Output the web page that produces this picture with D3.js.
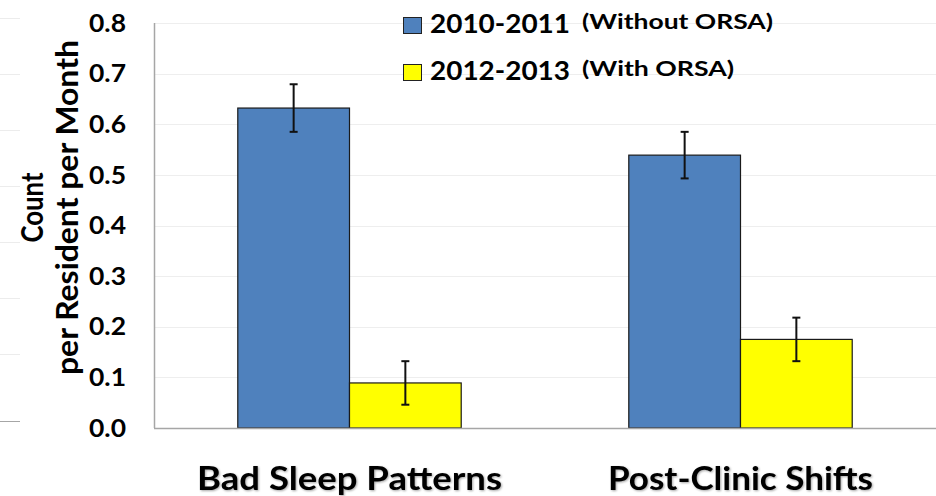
<!DOCTYPE html>
<html>
<head>
<meta charset="utf-8">
<script src="https://cdn.jsdelivr.net/npm/d3@7"></script>
<style>
  body { margin: 0; background: #fff; }
  svg text { font-family: Lato, "Open Sans", sans-serif; font-weight: bold; fill: #000; }
</style>
</head>
<body>
<svg id="chart" width="936" height="496"></svg>
<script>
"use strict";

// data
const categories = ['Bad Sleep Patterns', 'Post-Clinic Shifts'];
const seriesNames = ['2010-2011', '2012-2013'];
const seriesNotes = ['(Without ORSA)', '(With ORSA)'];
const seriesColors = ['#4F81BD', '#FFFF00'];
const values2010 = [0.632, 0.539];
const values2012 = [0.089, 0.175];
const errors2010 = [0.047, 0.046];
const errors2012 = [0.043, 0.043];
const yTicks = [0, 0.1, 0.2, 0.3, 0.4, 0.5, 0.6, 0.7, 0.8];
// faint lines of the neighbouring chart cut off at the left edge
const ghostLines = [0, 1, 2, 3, 4, 5, 6];

const svg = d3.select('#chart');
const W = 936, H = 496;
const margin = { top: 23, right: 0, bottom: 68, left: 154 };
const plotW = W - margin.left - margin.right;
const plotH = H - margin.top - margin.bottom;

const rows = categories.map((c, i) => ({
  category: c,
  bars: [
    { s: 0, value: values2010[i], err: errors2010[i] },
    { s: 1, value: values2012[i], err: errors2012[i] }
  ]
}));

const y = d3.scaleLinear().domain([0, 0.8]).range([plotH, 0]);
const x = d3.scaleBand().domain(categories).range([0, plotW]);
// Excel style gap width 150%
const barW = x.bandwidth() / 3.5;
const xs = d3.scaleBand().domain([0, 1])
  .range([x.bandwidth() / 2 - barW, x.bandwidth() / 2 + barW]);

// ghost gridlines at far left
const ghostY = d3.scaleLinear().domain([0, 6]).range([18, 354]);
svg.append('g').selectAll('line')
  .data(ghostLines)
  .enter().append('line')
  .attr('x1', 0).attr('x2', 20)
  .attr('y1', d => ghostY(d) + 0.5).attr('y2', d => ghostY(d) + 0.5)
  .attr('stroke', '#ececec');
svg.append('line')
  .attr('x1', 0).attr('x2', 20).attr('y1', 421.5).attr('y2', 421.5)
  .attr('stroke', '#a6a6a6');

const g = svg.append('g')
  .attr('transform', 'translate(' + margin.left + ',' + margin.top + ')');

// gridlines
g.append('g').selectAll('line')
  .data(yTicks.slice(1))
  .enter().append('line')
  .attr('x1', 0).attr('x2', plotW)
  .attr('y1', d => Math.round(y(d)) + 0.5)
  .attr('y2', d => Math.round(y(d)) + 0.5)
  .attr('stroke', '#eeeeee')
  .attr('stroke-width', 1);

// bars
const groups = g.selectAll('.grp')
  .data(rows)
  .enter().append('g')
  .attr('class', 'grp')
  .attr('transform', d => 'translate(' + x(d.category) + ',0)');

groups.selectAll('rect')
  .data(d => d.bars)
  .enter().append('rect')
  .attr('x', d => xs(d.s))
  .attr('y', d => y(d.value))
  .attr('width', xs.bandwidth())
  .attr('height', d => plotH - y(d.value))
  .attr('fill', d => seriesColors[d.s])
  .attr('stroke', '#1a1a1a')
  .attr('stroke-width', 1.2);

// error bars
const eb = groups.selectAll('.err')
  .data(d => d.bars)
  .enter().append('g')
  .attr('class', 'err')
  .attr('stroke', '#111')
  .attr('stroke-width', 2);

const cx = d => xs(d.s) + xs.bandwidth() / 2;
eb.append('line')
  .attr('x1', cx).attr('x2', cx)
  .attr('y1', d => y(d.value + d.err))
  .attr('y2', d => y(d.value - d.err));
eb.append('line')
  .attr('x1', d => cx(d) - 4).attr('x2', d => cx(d) + 4)
  .attr('y1', d => y(d.value + d.err)).attr('y2', d => y(d.value + d.err));
eb.append('line')
  .attr('x1', d => cx(d) - 4).attr('x2', d => cx(d) + 4)
  .attr('y1', d => y(d.value - d.err)).attr('y2', d => y(d.value - d.err));

// axes lines
g.append('line')
  .attr('x1', 0.5).attr('x2', 0.5).attr('y1', 0).attr('y2', plotH)
  .attr('stroke', '#a6a6a6').attr('stroke-width', 1.5);
g.append('line')
  .attr('x1', 0).attr('x2', plotW).attr('y1', plotH + 0.5).attr('y2', plotH + 0.5)
  .attr('stroke', '#a6a6a6').attr('stroke-width', 1.5);

// y tick labels
g.append('g').selectAll('text')
  .data(yTicks)
  .enter().append('text')
  .attr('x', -28)
  .attr('y', d => y(d))
  .attr('dy', '0.36em')
  .attr('text-anchor', 'end')
  .attr('font-size', 24)
  .attr('textLength', 37)
  .attr('lengthAdjust', 'spacingAndGlyphs')
  .text(d3.format('.1f'));

// y axis title
const yTitle = svg.append('g')
  .attr('transform', 'translate(0,' + (margin.top + plotH / 2 - 18) + ') rotate(-90)');
yTitle.append('text')
  .attr('x', 0).attr('y', 43)
  .attr('text-anchor', 'middle')
  .attr('font-size', 30)
  .attr('textLength', 70)
  .attr('lengthAdjust', 'spacingAndGlyphs')
  .text('Count');
yTitle.append('text')
  .attr('x', 0).attr('y', 78)
  .attr('text-anchor', 'middle')
  .attr('font-size', 30)
  .attr('textLength', 335)
  .attr('lengthAdjust', 'spacingAndGlyphs')
  .text('per Resident per Month');

// category labels
const catWidths = [305, 265];
g.append('g').selectAll('text')
  .data(categories)
  .enter().append('text')
  .attr('x', d => x(d) + x.bandwidth() / 2)
  .attr('y', plotH + 62)
  .attr('text-anchor', 'middle')
  .attr('font-size', 33)
  .attr('textLength', (d, i) => catWidths[i])
  .attr('lengthAdjust', 'spacingAndGlyphs')
  .style('filter', 'drop-shadow(1px 1px 1px rgba(0,0,0,0.35))')
  .text(d => d);

// legend
const noteWidths = [191, 152];
const legend = svg.append('g').attr('transform', 'translate(403,17)');
const item = legend.selectAll('g')
  .data(seriesNames)
  .enter().append('g')
  .attr('transform', (d, i) => 'translate(0,' + i * 47 + ')');
item.append('rect')
  .attr('x', 0.5).attr('y', 0.5)
  .attr('width', 18).attr('height', 16)
  .attr('fill', (d, i) => seriesColors[i])
  .attr('stroke', '#222');
item.append('text')
  .attr('x', 27).attr('y', 16)
  .attr('font-size', 27)
  .attr('textLength', 140)
  .attr('lengthAdjust', 'spacingAndGlyphs')
  .text(d => d);
item.append('text')
  .attr('x', 179).attr('y', 12)
  .attr('font-size', 21)
  .attr('textLength', (d, i) => noteWidths[i])
  .attr('lengthAdjust', 'spacingAndGlyphs')
  .text((d, i) => seriesNotes[i]);
</script>
</body>
</html>
